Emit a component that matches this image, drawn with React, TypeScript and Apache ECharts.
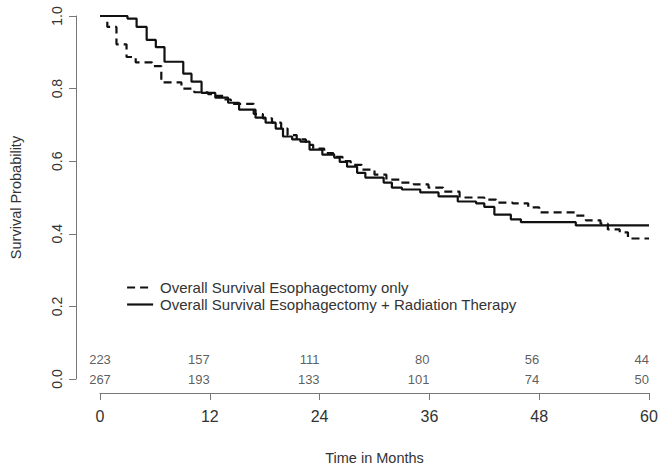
import React, { useEffect, useRef } from "react";
import * as echarts from "echarts";

// Kaplan-Meier step points (time in months, survival probability)
const onlyTimes = [0, 0.8, 1.8, 2.9, 3.9, 5.7, 6.7, 8.9, 10.3, 11.8, 12.5, 13.5, 14.3, 16.8, 17.8, 18.8, 19.8, 20.5, 21.5, 22.5, 23.3, 24.5, 25.5, 26.5, 27.4, 28.6, 30.0, 31.3, 32.8, 34.3, 35.9, 37.5, 39.3, 42.0, 43.3, 45.1, 46.8, 48.0, 52.0, 53.1, 54.7, 55.5, 56.8, 57.7, 60];
const onlyProb = [1.0, 0.97, 0.922, 0.887, 0.872, 0.862, 0.817, 0.8, 0.79, 0.785, 0.78, 0.77, 0.758, 0.73, 0.718, 0.706, 0.69, 0.672, 0.66, 0.645, 0.635, 0.622, 0.612, 0.6, 0.59, 0.577, 0.563, 0.549, 0.541, 0.536, 0.527, 0.516, 0.5, 0.494, 0.486, 0.484, 0.473, 0.459, 0.45, 0.437, 0.428, 0.412, 0.404, 0.387, 0.387];

const rtTimes = [0, 3.0, 4.0, 5.1, 6.1, 7.05, 9.1, 10.0, 11.1, 12.6, 14.0, 15.2, 17.0, 18.1, 19.2, 20.0, 21.0, 21.9, 22.9, 24.3, 25.6, 26.2, 27.0, 28.1, 29.0, 31.0, 31.9, 33.0, 35.0, 37.0, 39.1, 41.1, 42.0, 43.1, 44.9, 46.0, 52.0, 60];
const rtProb = [1.0, 0.993, 0.97, 0.934, 0.914, 0.874, 0.841, 0.819, 0.788, 0.775, 0.761, 0.742, 0.72, 0.706, 0.69, 0.668, 0.66, 0.654, 0.632, 0.618, 0.61, 0.598, 0.585, 0.568, 0.555, 0.541, 0.527, 0.522, 0.514, 0.503, 0.489, 0.484, 0.474, 0.453, 0.44, 0.432, 0.423, 0.423];

const riskMonths = [0, 12, 24, 36, 48, 60];
const atRiskOnly = [223, 157, 111, 80, 56, 44];
const atRiskRT = [267, 193, 133, 101, 74, 50];

const nameOnly = "Overall Survival Esophagectomy only";
const nameRT = "Overall Survival Esophagectomy + Radiation Therapy";

const FONT = "Liberation Sans, Arial, sans-serif";
const TEXT = "#333";
const AXIS = "#777";
const DASH = [8, 5];

function riskSeries(counts: number[], yPos: number) {
  return {
    type: "scatter",
    symbolSize: 0,
    silent: true,
    data: riskMonths.map((m, i) => ({
      value: [m, yPos],
      label: i === 0
        ? { show: true, position: "inside", align: "center" }
        : { show: true, position: "left", distance: 0 },
    })),
    label: {
      show: true,
      formatter: (p: any) => String(counts[p.dataIndex]),
      color: TEXT,
      fontSize: 13,
      fontFamily: FONT,
    },
  };
}

export default function App() {
  const ref = useRef<HTMLDivElement>(null);
  useEffect(() => {
    if (!ref.current) return;
    const chart = echarts.init(ref.current, undefined, { renderer: "svg" });
    chart.setOption({
      animation: false,
      backgroundColor: "#fff",
      grid: { left: 96, right: 13, top: 16, bottom: 90 },
      legend: {
        orient: "vertical",
        left: 126,
        top: 280,
        padding: 0,
        itemGap: 2,
        itemWidth: 26,
        itemHeight: 14,
        itemStyle: { color: "transparent", borderColor: "transparent", borderWidth: 0, opacity: 0 },
        textStyle: { fontSize: 15, color: TEXT, fontFamily: FONT, padding: [0, 0, 0, 2] },
        data: [
          { name: nameOnly, lineStyle: { type: DASH, width: 2.2, color: "#111" } },
          { name: nameRT, lineStyle: { type: "solid", width: 2.2, color: "#111" } },
        ],
      },
      xAxis: {
        type: "value",
        min: 0,
        max: 60,
        interval: 12,
        offset: 14,
        splitLine: { show: false },
        axisLine: { show: true, onZero: false, lineStyle: { color: AXIS, width: 1 } },
        axisTick: { show: true, length: 7, lineStyle: { color: AXIS } },
        axisLabel: { margin: 15, fontSize: 16, color: TEXT, fontFamily: FONT },
        name: "Time in Months",
        nameLocation: "middle",
        nameGap: 57,
        nameTextStyle: { fontSize: 14.5, color: TEXT, fontFamily: FONT },
      },
      yAxis: {
        type: "value",
        min: 0,
        max: 1,
        interval: 0.2,
        offset: 24,
        splitLine: { show: false },
        axisLine: { show: true, onZero: false, lineStyle: { color: AXIS, width: 1 } },
        axisTick: { show: true, length: 7, lineStyle: { color: AXIS } },
        axisLabel: {
          margin: 12,
          rotate: 90,
          fontSize: 14,
          color: TEXT,
          fontFamily: FONT,
          formatter: (v: number) => v.toFixed(1),
        },
        name: "Survival Probability",
        nameLocation: "middle",
        nameGap: 53,
        nameTextStyle: { fontSize: 14.5, color: TEXT, fontFamily: FONT },
      },
      series: [
        {
          name: nameOnly,
          type: "line",
          step: "end",
          symbol: "none",
          lineStyle: { color: "#111", width: 2.2, type: DASH },
          itemStyle: { color: "#111" },
          data: onlyTimes.map((t, i) => [t, onlyProb[i]]),
        },
        {
          name: nameRT,
          type: "line",
          step: "end",
          symbol: "none",
          lineStyle: { color: "#111", width: 2.2, type: "solid" },
          itemStyle: { color: "#111" },
          data: rtTimes.map((t, i) => [t, rtProb[i]]),
        },
        riskSeries(atRiskOnly, 0.053),
        riskSeries(atRiskRT, 0),
      ],
    });
    return () => chart.dispose();
  }, []);
  return (
    <div
      ref={ref}
      style={{ position: "fixed", left: 0, top: 0, width: 662, height: 470, background: "#fff" }}
    />
  );
}
